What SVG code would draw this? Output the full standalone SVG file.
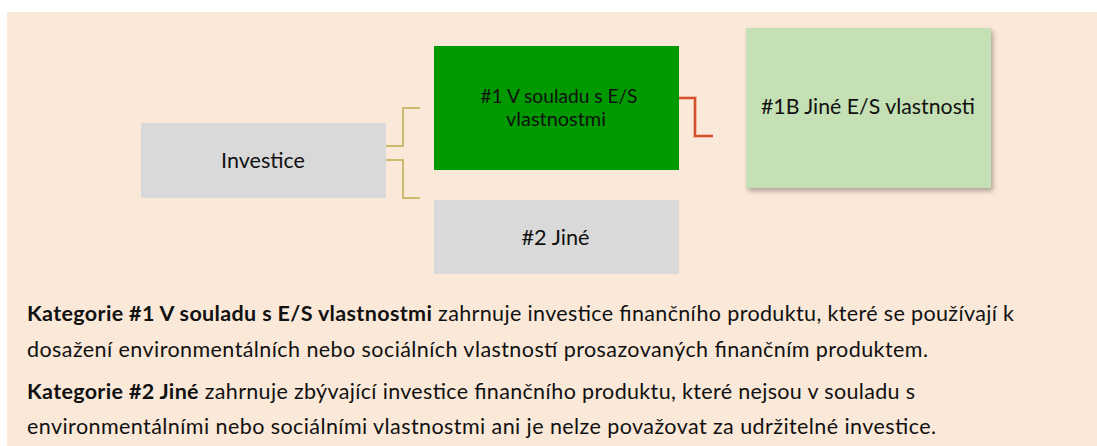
<svg xmlns="http://www.w3.org/2000/svg" width="1097" height="446" viewBox="0 0 1097 446">
  <defs>
    <filter id="shadow" x="-10%" y="-10%" width="125%" height="130%">
      <feDropShadow dx="2" dy="3" stdDeviation="2.5" flood-color="#000" flood-opacity="0.3"/>
    </filter>
    <style>
      .lbl { font-family: Lato, "Open Sans", sans-serif; fill: #111; text-anchor: middle; }
      .body { font-family: Lato, "Open Sans", sans-serif; fill: #111; font-size: 21.5px; }
      .b { font-weight: bold; }
      .gray { fill: #D9D9D9; }
      .conn-y { fill: none; stroke: #CDBA6C; stroke-width: 2; }
      .conn-r { fill: none; stroke: #D2512F; stroke-width: 2; }
      .conn-r-halo { fill: none; stroke: #F2B9A3; stroke-width: 4; }
    </style>
  </defs>
  <rect x="0" y="0" width="1097" height="446" fill="#ffffff"/>
  <rect x="7" y="12" width="1090" height="434" fill="#FAE8D8"/>

  <g id="connectors">
    <path class="conn-y" d="M386 146 H403 V108 H420"/>
    <path class="conn-y" d="M386 160 H403 V198 H420"/>
    <path class="conn-r-halo" d="M679 98 H695 V136 H713"/>
    <path class="conn-r" d="M679 98 H695 V136 H713"/>
  </g>

  <g id="node-investice">
    <rect class="gray" x="141" y="123" width="245" height="75"/>
    <text class="lbl" x="263" y="168" font-size="22" textLength="84" lengthAdjust="spacingAndGlyphs">Investice</text>
  </g>

  <g id="node-1">
    <rect x="434" y="46" width="245" height="124" fill="#009900"/>
    <text class="lbl" x="559" y="103" font-size="19.5" textLength="157" lengthAdjust="spacingAndGlyphs">#1 V souladu s E/S</text>
    <text class="lbl" x="556" y="126" font-size="19.5" textLength="100" lengthAdjust="spacingAndGlyphs">vlastnostmi</text>
  </g>

  <g id="node-1b">
    <rect x="746" y="28" width="245" height="160" fill="#C5E0B4" filter="url(#shadow)"/>
    <text class="lbl" x="868" y="114" font-size="22" textLength="214" lengthAdjust="spacingAndGlyphs">#1B Jiné E/S vlastnosti</text>
  </g>

  <g id="node-2">
    <rect class="gray" x="434" y="200" width="245" height="74"/>
    <text class="lbl" x="555.5" y="245" font-size="22" textLength="68" lengthAdjust="spacingAndGlyphs">#2 Jiné</text>
  </g>

  <g id="legend">
    <text class="body" x="27" y="321" textLength="987"><tspan class="b">Kategorie #1 V souladu s E/S vlastnostmi</tspan> zahrnuje investice finančního produktu, které se používají k</text>
    <text class="body" x="27" y="357" textLength="901">dosažení environmentálních nebo sociálních vlastností prosazovaných finančním produktem.</text>
    <text class="body" x="27" y="399" textLength="888"><tspan class="b">Kategorie #2 Jiné</tspan> zahrnuje zbývající investice finančního produktu, které nejsou v souladu s</text>
    <text class="body" x="27" y="434" textLength="909">environmentálními nebo sociálními vlastnostmi ani je nelze považovat za udržitelné investice.</text>
  </g>
</svg>
